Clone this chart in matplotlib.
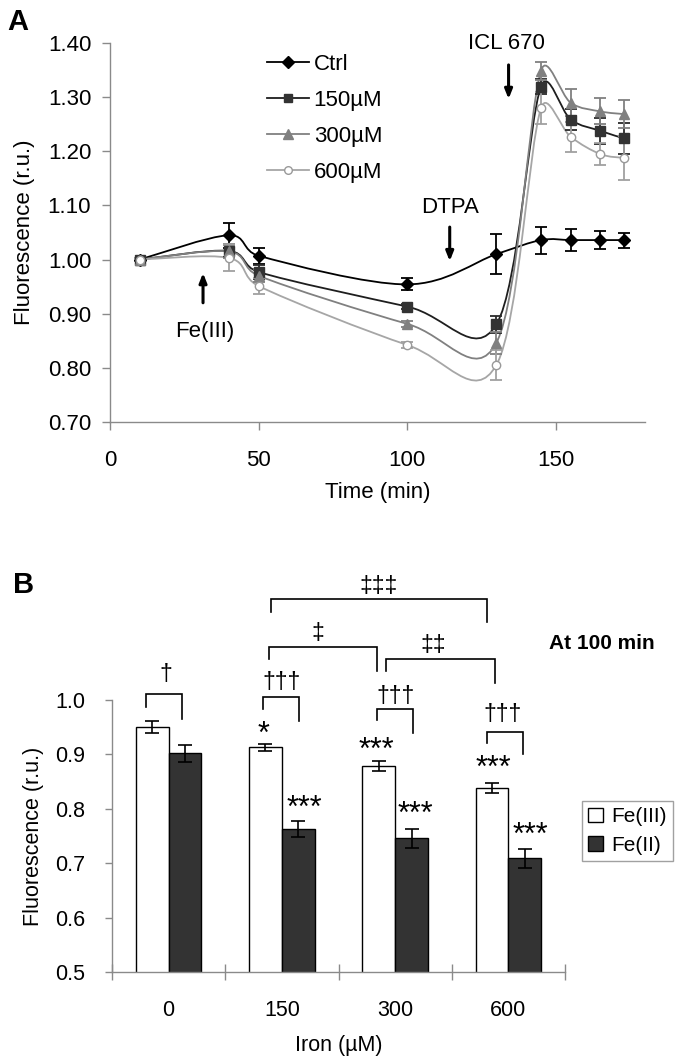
import numpy as np
import matplotlib
matplotlib.use("Agg")
import matplotlib.pyplot as plt
from matplotlib.path import Path
from matplotlib.patches import PathPatch
from matplotlib.lines import Line2D

plt.rcParams['font.family'] = ['Liberation Sans', 'DejaVu Sans']

# ---------------- Panel A data ----------------
time_min = [10, 40, 50, 100, 130, 145, 155, 165, 173]
ctrl_mean = [1.000, 1.045, 1.007, 0.954, 1.010, 1.036, 1.036, 1.036, 1.036]
ctrl_err = [0.003, 0.023, 0.015, 0.011, 0.037, 0.025, 0.020, 0.017, 0.014]
fe150_mean = [1.000, 1.016, 0.977, 0.913, 0.880, 1.320, 1.259, 1.238, 1.224]
fe150_err = [0.003, 0.012, 0.013, 0.005, 0.015, 0.014, 0.020, 0.024, 0.028]
fe300_mean = [1.000, 1.015, 0.970, 0.881, 0.846, 1.349, 1.290, 1.274, 1.269]
fe300_err = [0.003, 0.012, 0.012, 0.006, 0.020, 0.016, 0.025, 0.024, 0.026]
fe600_mean = [1.000, 1.003, 0.951, 0.842, 0.805, 1.280, 1.227, 1.195, 1.188]
fe600_err = [0.003, 0.025, 0.014, 0.006, 0.027, 0.030, 0.028, 0.020, 0.040]
series_labels = ['Ctrl', '150µM', '300µM', '600µM']

# ---------------- Panel B data ----------------
iron_labels = ['0', '150', '300', '600']
fe3_mean = [0.950, 0.913, 0.879, 0.838]
fe3_err = [0.011, 0.006, 0.009, 0.009]
fe2_mean = [0.902, 0.763, 0.746, 0.709]
fe2_err = [0.015, 0.014, 0.017, 0.017]


def smooth_path(ax, x, y):
    """Spreadsheet-style smoothed line: cubic Bezier segments through the
    data points, tangent arms limited to half of the segment (screen space)."""
    to_disp = ax.transData
    pts = to_disp.transform(np.column_stack([x, y]).astype(float))
    n = len(pts)
    verts = [pts[0]]
    codes = [Path.MOVETO]
    for i in range(n - 1):
        p0 = pts[max(i - 1, 0)]
        p1 = pts[i]
        p2 = pts[i + 1]
        p3 = pts[min(i + 2, n - 1)]
        d = np.hypot(*(p2 - p1))
        t1 = p2 - p0
        a1 = t1 / 6.0
        n1 = np.hypot(*a1)
        if n1 > d / 2 and n1 > 0:
            a1 = a1 * (d / 2) / n1
        t2 = p3 - p1
        a2 = t2 / 6.0
        n2 = np.hypot(*a2)
        if n2 > d / 2 and n2 > 0:
            a2 = a2 * (d / 2) / n2
        verts += [p1 + a1, p2 - a2, p2]
        codes += [Path.CURVE4] * 3
    verts = to_disp.inverted().transform(np.array(verts))
    return Path(verts, codes)


fig = plt.figure(figsize=(6.77, 10.63), dpi=100)
SPINE = '#8a8a8a'

# ================= Panel A =================
axA = fig.add_axes([0.16248, 0.60329, 0.79025, 0.35597])
axA.set_xlim(0, 180)
axA.set_ylim(0.70, 1.40)
styles = [
    dict(line='#000000', marker='D', mfc='#000000', mec='#000000', ms=6.5, ecol='#000000'),
    dict(line='#1e1e1e', marker='s', mfc='#333333', mec='#333333', ms=6.5, ecol='#2a2a2a'),
    dict(line='#808080', marker='^', mfc='#808080', mec='#808080', ms=7.5, ecol='#808080'),
    dict(line='#a6a6a6', marker='o', mfc='white', mec='#999999', ms=6, ecol='#a0a0a0'),
]
means = [ctrl_mean, fe150_mean, fe300_mean, fe600_mean]
errs = [ctrl_err, fe150_err, fe300_err, fe600_err]
handles = []
for lab, m, e, st in zip(series_labels, means, errs, styles):
    axA.add_patch(PathPatch(smooth_path(axA, time_min, m), facecolor='none',
                            edgecolor=st['line'], lw=1.3, zorder=2))
    axA.errorbar(time_min, m, yerr=e, fmt='none', ecolor=st['ecol'],
                 elinewidth=1.3, capsize=4.5, capthick=1.3, zorder=3)
    axA.plot(time_min, m, linestyle='none', marker=st['marker'], mfc=st['mfc'],
             mec=st['mec'], ms=st['ms'], mew=1.0, zorder=4)
    handles.append(Line2D([], [], color=st['line'], lw=1.3, marker=st['marker'],
                          mfc=st['mfc'], mec=st['mec'], ms=st['ms'] - 0.5, label=lab))

axA.set_xticks([0, 50, 100, 150])
axA.set_yticks(np.arange(0.70, 1.401, 0.10))
axA.set_yticklabels([f'{v:.2f}' for v in np.arange(0.70, 1.401, 0.10)])
for s in ['top', 'right']:
    axA.spines[s].set_visible(False)
for s in ['left', 'bottom']:
    axA.spines[s].set_color(SPINE)
    axA.spines[s].set_linewidth(1.0)
axA.tick_params(axis='both', colors=SPINE, labelcolor='black', labelsize=16,
                direction='out', length=5.5, width=1.0)
axA.tick_params(axis='y', pad=8)
axA.tick_params(axis='x', pad=15)
axA.set_xlabel('Time (min)', fontsize=16)
axA.set_ylabel('Fluorescence (r.u.)', fontsize=16)
axA.xaxis.label.set_va('center')
axA.xaxis.set_label_coords(0.5, -0.188)
axA.yaxis.label.set_va('center')
axA.yaxis.set_label_coords(-0.159, 0.5)

axA.legend(handles=handles, loc='upper left', bbox_to_anchor=(0.2935, 0.972),
           frameon=False, fontsize=16, handlelength=1.9, handletextpad=0.2,
           labelspacing=0.68, borderpad=0, borderaxespad=0)

arrow_kw = dict(arrowstyle='-|>,head_width=0.22,head_length=0.55', lw=2.2,
                color='black', shrinkA=0, shrinkB=0)
axA.annotate('', xy=(134.1, 1.297), xytext=(134.1, 1.360), arrowprops=arrow_kw)
axA.text(133.4, 1.400, 'ICL 670', fontsize=16, ha='center', va='center')
axA.annotate('', xy=(114.3, 0.997), xytext=(114.3, 1.060), arrowprops=arrow_kw)
axA.text(114.3, 1.097, 'DTPA', fontsize=16, ha='center', va='center')
axA.annotate('', xy=(31.3, 0.975), xytext=(31.3, 0.920), arrowprops=arrow_kw)
axA.text(31.9, 0.866, 'Fe(III)', fontsize=16, ha='center', va='center')

fig.text(7 / 677, 1 - 22 / 1063, 'A', fontsize=21, fontweight='bold',
         ha='left', va='center')

# ================= Panel B =================
axB = fig.add_axes([0.16544, 0.08532, 0.66913, 0.25616])
xc = np.arange(len(iron_labels))
bw = 0.29
axB.bar(xc - bw, fe3_mean, width=bw, align='edge', color='white',
        edgecolor='black', lw=1.0, label='Fe(III)', zorder=2)
axB.bar(xc, fe2_mean, width=bw, align='edge', color='#333333',
        edgecolor='black', lw=1.0, label='Fe(II)', zorder=2)
axB.errorbar(xc - bw / 2, fe3_mean, yerr=fe3_err, fmt='none', ecolor='black',
             elinewidth=1.2, capsize=5, capthick=1.2, zorder=3)
axB.errorbar(xc + bw / 2, fe2_mean, yerr=fe2_err, fmt='none', ecolor='black',
             elinewidth=1.2, capsize=5, capthick=1.2, zorder=3)

axB.set_xlim(-0.5, len(iron_labels) - 0.5)
axB.set_ylim(0.5, 1.0)
axB.set_yticks([0.5, 0.6, 0.7, 0.8, 0.9, 1.0])
axB.set_yticklabels(['0.5', '0.6', '0.7', '0.8', '0.9', '1.0'])
axB.set_xticks(np.arange(-0.5, len(iron_labels), 1.0))
axB.set_xticklabels([])
axB.set_xticks(xc, minor=True)
axB.set_xticklabels(iron_labels, minor=True)
for s in ['top', 'right']:
    axB.spines[s].set_visible(False)
for s in ['left', 'bottom']:
    axB.spines[s].set_color(SPINE)
    axB.spines[s].set_linewidth(1.0)
axB.tick_params(axis='y', colors=SPINE, labelcolor='black', labelsize=15.5,
                direction='out', length=5, width=1.0, pad=14)
axB.tick_params(axis='x', which='major', colors=SPINE, direction='inout',
                length=11.5, width=1.0)
axB.tick_params(axis='x', which='minor', length=0, labelsize=15.5,
                labelcolor='black', pad=20)
axB.set_xlabel('Iron (µM)', fontsize=15.5)
axB.set_ylabel('Fluorescence (r.u.)', fontsize=15.5)
axB.xaxis.label.set_va('center')
axB.xaxis.set_label_coords(0.5, -0.268)
axB.yaxis.label.set_va('center')
axB.yaxis.set_label_coords(-0.174, 0.5)

axB.legend(loc='upper left', bbox_to_anchor=(1.0375, 0.629), fontsize=15,
           frameon=True, fancybox=False, edgecolor=SPINE, handlelength=0.72,
           handleheight=0.72, handletextpad=0.38, labelspacing=0.45,
           borderpad=0.3, borderaxespad=0)
axB.get_legend().get_frame().set_linewidth(1.0)


def bracket(ax, x1, x2, ytop, yl, yr, lw=1.2):
    ax.plot([x1, x1, x2, x2], [yl, ytop, ytop, yr], color='black', lw=lw,
            clip_on=False, solid_joinstyle='miter', zorder=5)


def dagger(ax, x, y, s):
    ax.text(x, y, s, fontsize=16.5, ha='center', va='center', clip_on=False)


def stars(ax, x, y, s, fs=22):
    ax.annotate(s, xy=(x, y), xytext=(0, -0.575 * fs), textcoords='offset points',
                fontsize=fs, ha='center', va='baseline', annotation_clip=False)


# within-concentration comparisons (Fe(III) vs Fe(II))
bracket(axB, -0.203, 0.120, 1.0105, 0.9877, 0.9646)
dagger(axB, -0.026, 1.046, '†')
bracket(axB, 0.835, 1.153, 1.005, 0.9835, 0.9614)
dagger(axB, 0.997, 1.032, '†††')
bracket(axB, 1.836, 2.154, 0.9835, 0.963, 0.940)
dagger(axB, 2.003, 1.007, '†††')
bracket(axB, 2.812, 3.130, 0.9418, 0.9217, 0.9003)
dagger(axB, 2.953, 0.974, '†††')

# between-concentration comparisons
bracket(axB, 0.885, 1.836, 1.0968, 1.0753, 1.0533)
dagger(axB, 1.32, 1.1225, '‡')
bracket(axB, 1.915, 2.886, 1.0753, 1.0533, 1.0306)
dagger(axB, 2.335, 1.101, '‡‡')
bracket(axB, 0.900, 2.812, 1.1855, 1.162, 1.1427)
dagger(axB, 1.85, 1.2093, '‡‡‡')

# significance vs control
stars(axB, 0.835, 0.954, '*')
stars(axB, 1.196, 0.8177, '***')
stars(axB, 1.836, 0.9247, '***')
stars(axB, 2.183, 0.807, '***')
stars(axB, 2.865, 0.891, '***')
stars(axB, 3.195, 0.7686, '***')

axB.text(3.825, 1.104, 'At 100 min', fontsize=15, fontweight='bold',
         ha='center', va='center', clip_on=False)

fig.text(13 / 677, 1 - 585 / 1063, 'B', fontsize=21, fontweight='bold',
         ha='left', va='center')

fig.savefig('out.png', dpi=100)
